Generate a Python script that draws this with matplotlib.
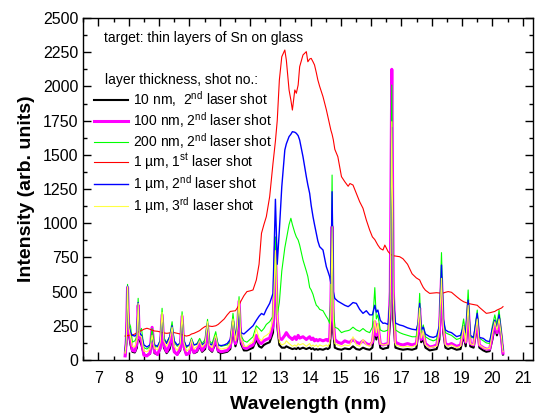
import matplotlib
matplotlib.use("Agg")
import matplotlib.pyplot as plt
from matplotlib.ticker import MultipleLocator

# ==========================================
# Spectra: Sn thin layers on glass
# ==========================================

wavelength = [
    7.88, 7.92, 7.96, 8.00, 8.06, 8.12, 8.20, 8.27, 8.31, 8.35,
    8.42, 8.50, 8.60, 8.70, 8.77, 8.85, 8.95, 9.04, 9.10, 9.16,
    9.25, 9.35, 9.43, 9.50, 9.60, 9.70, 9.76, 9.82, 9.90, 10.00,
    10.07, 10.15, 10.25, 10.34, 10.42, 10.52, 10.60, 10.66, 10.75, 10.87,
    10.95, 11.05, 11.15, 11.25, 11.35, 11.44, 11.52, 11.58, 11.64, 11.70,
    11.80, 11.90, 12.00, 12.10, 12.21, 12.30, 12.38, 12.46, 12.54, 12.65,
    12.76, 12.84, 12.90, 12.97, 13.05, 13.15, 13.20, 13.29, 13.35, 13.40,
    13.48, 13.53, 13.59, 13.64, 13.75, 13.86, 13.91, 13.97, 14.02, 14.08,
    14.13, 14.19, 14.24, 14.30, 14.41, 14.52, 14.57, 14.63, 14.67, 14.71,
    14.75, 14.80, 14.90, 15.02, 15.13, 15.24, 15.30, 15.40, 15.51, 15.62,
    15.73, 15.84, 15.95, 16.04, 16.12, 16.17, 16.22, 16.30, 16.39, 16.45,
    16.56, 16.63, 16.68, 16.73, 16.80, 16.94, 17.05, 17.20, 17.35, 17.49,
    17.56, 17.60, 17.65, 17.72, 17.79, 17.93, 18.05, 18.16, 18.25, 18.32,
    18.38, 18.45, 18.54, 18.65, 18.82, 18.95, 19.05, 19.12, 19.20, 19.27,
    19.38, 19.50, 19.57, 19.70, 19.80, 19.91, 20.00, 20.08, 20.15, 20.22,
    20.30, 20.35,
]

nm10_shot2 = [
    30, 120, 420, 200, 110, 60, 55, 90, 330, 150,
    110, 40, 35, 45, 150, 50, 40, 80, 260, 90,
    50, 80, 160, 60, 40, 70, 260, 90, 40, 50,
    100, 50, 60, 100, 60, 80, 200, 80, 60, 130,
    60, 50, 55, 60, 80, 220, 100, 150, 350, 120,
    70, 70, 80, 90, 150, 100, 90, 110, 120, 130,
    200, 650, 250, 110, 90, 90, 100, 90, 85, 80,
    85, 80, 90, 80, 90, 80, 85, 90, 80, 85,
    75, 80, 75, 80, 75, 85, 80, 90, 200, 800,
    200, 90, 80, 75, 85, 80, 80, 100, 80, 75,
    90, 80, 75, 90, 230, 150, 220, 90, 80, 85,
    90, 300, 1500, 300, 90, 80, 75, 80, 75, 85,
    200, 300, 130, 150, 90, 70, 75, 80, 150, 500,
    200, 90, 80, 90, 75, 80, 180, 100, 330, 100,
    90, 250, 90, 70, 60, 65, 150, 250, 180, 260,
    150, 40,
]

nm100_shot2 = [
    30, 150, 530, 230, 150, 70, 65, 120, 400, 170,
    140, 35, 30, 50, 239, 60, 40, 90, 330, 110,
    60, 110, 200, 60, 40, 90, 320, 100, 40, 50,
    120, 55, 70, 120, 70, 100, 250, 90, 70, 160,
    70, 60, 65, 70, 100, 280, 120, 200, 430, 150,
    90, 85, 100, 110, 180, 130, 120, 140, 150, 160,
    250, 828, 300, 160, 150, 180, 200, 170, 160, 150,
    170, 150, 180, 160, 170, 150, 160, 170, 150, 160,
    140, 150, 140, 150, 140, 150, 140, 160, 400, 975,
    300, 150, 130, 120, 140, 130, 130, 150, 130, 120,
    140, 120, 110, 130, 280, 180, 260, 120, 110, 115,
    120, 500, 2125, 500, 130, 115, 110, 120, 110, 120,
    250, 380, 150, 200, 120, 95, 100, 110, 200, 600,
    250, 120, 110, 120, 100, 110, 220, 130, 400, 120,
    110, 300, 110, 90, 80, 80, 180, 280, 200, 300,
    160, 50,
]

nm200_shot2 = [
    60, 180, 553, 280, 244, 130, 140, 170, 451, 200,
    231, 90, 80, 100, 230, 100, 95, 150, 378, 160,
    130, 170, 280, 130, 100, 130, 353, 150, 90, 110,
    160, 110, 120, 158, 120, 150, 297, 140, 120, 207,
    110, 100, 105, 110, 140, 341, 170, 250, 463, 180,
    140, 130, 150, 170, 250, 230, 210, 230, 260, 280,
    320, 900, 330, 420, 650, 820, 880, 990, 1036, 990,
    930, 900, 877, 840, 731, 650, 610, 530, 512, 480,
    440, 400, 390, 370, 360, 317, 300, 268, 500, 1352,
    400, 240, 230, 200, 210, 215, 220, 240, 220, 210,
    230, 210, 200, 240, 529, 300, 330, 220, 210, 210,
    220, 500, 2010, 500, 220, 200, 190, 180, 170, 170,
    300, 487, 200, 256, 170, 150, 140, 150, 250, 785,
    300, 200, 190, 180, 150, 160, 300, 180, 512, 170,
    160, 365, 160, 140, 125, 120, 250, 330, 260, 365,
    200, 80,
]

um1_shot1 = [
    175, 175, 178, 180, 182, 183, 190, 200, 205, 210,
    215, 225, 232, 225, 218, 212, 210, 205, 200, 198,
    195, 198, 200, 200, 195, 190, 185, 180, 175, 180,
    190, 195, 205, 215, 230, 245, 250, 248, 245, 250,
    260, 280, 300, 330, 355, 358, 360, 380, 402, 430,
    470, 500, 505, 512, 585, 700, 926, 990, 1048, 1194,
    1438, 1600, 1750, 2047, 2217, 2266, 2193, 1974, 1900, 1827,
    1974, 1950, 2010, 2144, 2230, 2254, 2180, 2200, 2205, 2180,
    2157, 2100, 2047, 2000, 1925, 1830, 1779, 1720, 1680, 1650,
    1610, 1540, 1486, 1340, 1303, 1270, 1290, 1279, 1218, 1157,
    1109, 1023, 950, 900, 880, 860, 840, 815, 804, 840,
    792, 775, 767, 762, 760, 755, 740, 700, 630, 600,
    590, 585, 560, 530, 510, 487, 490, 492, 490, 488,
    490, 495, 500, 495, 463, 440, 426, 420, 414, 410,
    405, 400, 385, 360, 341, 345, 350, 355, 365, 372,
    380, 390,
]

um1_shot2 = [
    70, 170, 540, 250, 200, 180, 175, 190, 420, 200,
    180, 110, 95, 110, 150, 110, 100, 140, 300, 150,
    120, 170, 250, 140, 110, 120, 290, 140, 100, 110,
    150, 110, 115, 140, 110, 130, 270, 120, 110, 170,
    110, 105, 110, 120, 150, 280, 180, 220, 340, 200,
    190, 210, 230, 250, 290, 320, 340, 330, 370, 414,
    487, 1175, 700, 950, 1267, 1535, 1580, 1633, 1650, 1669,
    1665, 1657, 1640, 1608, 1486, 1340, 1280, 1218, 1130, 1048,
    990, 926, 870, 828, 804, 682, 650, 609, 560, 1230,
    500, 450, 430, 414, 400, 390, 400, 420, 414, 370,
    341, 360, 330, 330, 400, 350, 365, 290, 268, 270,
    260, 450, 1700, 450, 270, 256, 250, 235, 225, 220,
    280, 414, 220, 240, 190, 171, 165, 175, 250, 694,
    300, 220, 207, 200, 171, 180, 250, 200, 438, 180,
    165, 341, 165, 158, 140, 134, 230, 292, 230, 330,
    180, 73,
]

um1_shot3 = [
    50, 150, 536, 240, 170, 100, 95, 150, 414, 180,
    170, 65, 60, 80, 180, 85, 75, 130, 349, 140,
    100, 150, 240, 100, 70, 120, 330, 130, 65, 80,
    150, 80, 100, 140, 95, 120, 280, 110, 90, 180,
    90, 80, 85, 90, 120, 300, 140, 230, 439, 160,
    100, 100, 120, 130, 230, 160, 140, 170, 180, 200,
    300, 800, 330, 130, 110, 120, 140, 120, 110, 100,
    110, 100, 120, 110, 120, 100, 110, 120, 100, 110,
    100, 110, 95, 110, 100, 110, 100, 120, 350, 975,
    300, 120, 110, 100, 110, 105, 110, 170, 110, 100,
    150, 110, 100, 140, 292, 200, 268, 120, 110, 110,
    120, 450, 1742, 450, 110, 100, 95, 100, 95, 110,
    280, 380, 160, 210, 110, 90, 95, 100, 230, 597,
    250, 110, 100, 110, 90, 100, 250, 130, 400, 120,
    110, 300, 110, 90, 80, 85, 200, 280, 220, 300,
    170, 60,
]

series = [
    (nm10_shot2, "black", 1.5, r"10 nm,  2$^{\rm nd}$ laser shot"),
    (nm100_shot2, "#ff00ff", 2.2, r"100 nm, 2$^{\rm nd}$ laser shot"),
    (nm200_shot2, "#00ff00", 0.8, r"200 nm, 2$^{\rm nd}$ laser shot"),
    (um1_shot1, "#ff0000", 0.8, r"1 µm, 1$^{\rm st}$ laser shot"),
    (um1_shot2, "#0000ff", 1.0, r"1 µm, 2$^{\rm nd}$ laser shot"),
    (um1_shot3, "#ffff44", 0.8, r"1 µm, 3$^{\rm rd}$ laser shot"),
]

# ==========================================
# Style
# ==========================================

plt.rcParams["font.family"] = ["Liberation Sans", "DejaVu Sans"]
plt.rcParams["mathtext.fontset"] = "custom"
plt.rcParams["mathtext.rm"] = "Liberation Sans"
plt.rcParams["mathtext.it"] = "Liberation Sans:italic"
plt.rcParams["mathtext.bf"] = "Liberation Sans:bold"

fig = plt.figure(figsize=(5.36, 4.17), dpi=100)
ax = fig.add_axes([83.3 / 536, 57 / 417, 450 / 536, 342 / 417])

for values, color, lw, label in series:
    ax.plot(wavelength, values, color=color, lw=lw, label=label)

ax.set_xlim(6.5, 21.35)
ax.set_ylim(0, 2500)

ax.xaxis.set_major_locator(MultipleLocator(1))
ax.xaxis.set_minor_locator(MultipleLocator(0.5))
ax.yaxis.set_major_locator(MultipleLocator(250))
ax.yaxis.set_minor_locator(MultipleLocator(125))

ax.tick_params(which="both", direction="in", top=True, right=True,
               labelsize=11.5, width=1.0)
ax.tick_params(which="major", length=6)
ax.tick_params(which="minor", length=3)
ax.tick_params(axis="x", which="major", pad=8)
for spine in ax.spines.values():
    spine.set_linewidth(1.0)

ax.set_xlabel("Wavelength (nm)", fontsize=14, fontweight="bold", labelpad=7)
ax.set_ylabel("Intensity (arb. units)", fontsize=14, fontweight="bold", labelpad=6)

# ==========================================
# Annotations and legend
# ==========================================

ax.text(0.046, 0.9415, "target: thin layers of Sn on glass",
        transform=ax.transAxes, fontsize=10, va="center", ha="left")
ax.text(0.048, 0.819, "layer thickness, shot no.:",
        transform=ax.transAxes, fontsize=10, va="center", ha="left")

ax.legend(loc="upper left", bbox_to_anchor=(0.018, 0.80), frameon=False,
          fontsize=10, handlelength=2.4, handletextpad=0.4,
          labelspacing=0.07, borderpad=0.2, borderaxespad=0.0)

fig.savefig("out.png", dpi=100)
